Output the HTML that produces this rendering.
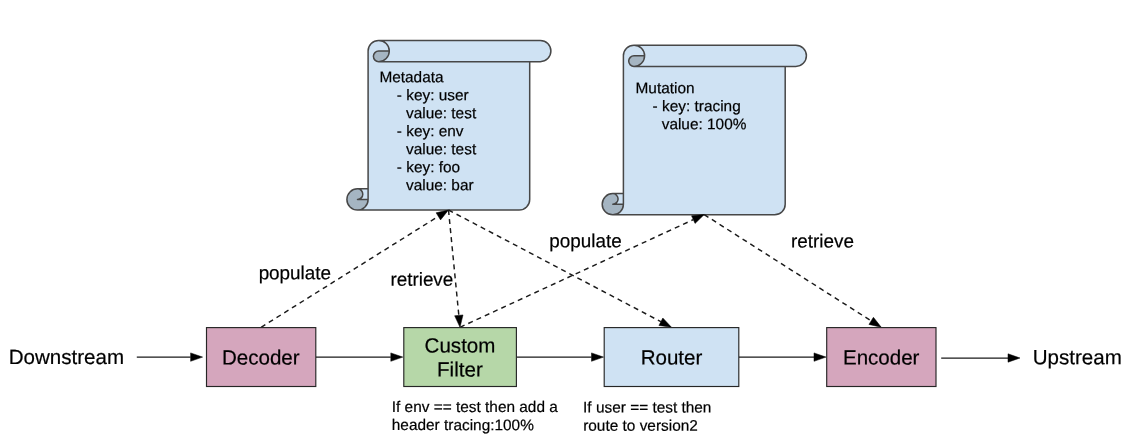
<!DOCTYPE html>
<html><head><meta charset="utf-8"><title>Filter chain metadata diagram</title>
<style>
html,body{margin:0;padding:0;background:#fff;}
body{width:1143px;height:446px;overflow:hidden;}
svg{display:block;will-change:transform;}
text{font-family:"Liberation Sans",Arial,Helvetica,sans-serif;fill:#000;stroke:#000;stroke-width:0.2px;text-rendering:geometricPrecision;}
</style></head><body>
<svg width="1143" height="446" viewBox="0 0 1143 446">
<path d="M368.1 188.85 L368.1 51.05 A10.60 10.60 0 0 1 378.7 40.45 L540.3 40.45 A10.60 10.60 0 0 1 540.3 61.65 L529.7 61.65 L529.7 199.45 A10.60 10.60 0 0 1 519.1 210.05 L357.5 210.05 A10.60 10.60 0 0 1 346.9 199.45 A10.60 10.60 0 0 1 357.5 188.85 Z" fill="#cfe2f3"/>
<path d="M389.3 51.05 A10.60 10.60 0 0 1 378.7 61.65 A5.30 5.30 0 0 1 378.7 51.05 Z M368.1 199.45 A10.60 10.60 0 0 1 357.5 210.05 A10.60 10.60 0 0 1 346.9 199.45 A10.60 10.60 0 0 1 357.5 188.85 A5.30 5.30 0 0 1 357.5 199.45 Z" fill="#a5b5c2"/>
<path d="M368.1 188.85 L368.1 51.05 A10.60 10.60 0 0 1 378.7 40.45 L540.3 40.45 A10.60 10.60 0 0 1 540.3 61.65 L529.7 61.65 L529.7 199.45 A10.60 10.60 0 0 1 519.1 210.05 L357.5 210.05 A10.60 10.60 0 0 1 346.9 199.45 A10.60 10.60 0 0 1 357.5 188.85 Z M378.7 40.45 A10.60 10.60 0 0 1 378.7 61.65 A5.30 5.30 0 0 1 378.7 51.05 L389.3 51.05 M529.7 61.65 L378.7 61.65 M357.5 188.85 A5.30 5.30 0 0 1 357.5 199.45 L368.1 199.45 M357.5 210.05 A10.60 10.60 0 0 0 368.1 199.45 L368.1 188.85" fill="none" stroke="#474747" stroke-width="1.5" stroke-linejoin="round" stroke-linecap="butt"/>
<path d="M623.4 193.6 L623.4 55.8 A10.60 10.60 0 0 1 634.0 45.2 L795.8 45.2 A10.60 10.60 0 0 1 795.8 66.4 L785.2 66.4 L785.2 204.2 A10.60 10.60 0 0 1 774.6 214.8 L612.8 214.8 A10.60 10.60 0 0 1 602.2 204.2 A10.60 10.60 0 0 1 612.8 193.6 Z" fill="#cfe2f3"/>
<path d="M644.6 55.8 A10.60 10.60 0 0 1 634.0 66.4 A5.30 5.30 0 0 1 634.0 55.8 Z M623.4 204.2 A10.60 10.60 0 0 1 612.8 214.8 A10.60 10.60 0 0 1 602.2 204.2 A10.60 10.60 0 0 1 612.8 193.6 A5.30 5.30 0 0 1 612.8 204.2 Z" fill="#a5b5c2"/>
<path d="M623.4 193.6 L623.4 55.8 A10.60 10.60 0 0 1 634.0 45.2 L795.8 45.2 A10.60 10.60 0 0 1 795.8 66.4 L785.2 66.4 L785.2 204.2 A10.60 10.60 0 0 1 774.6 214.8 L612.8 214.8 A10.60 10.60 0 0 1 602.2 204.2 A10.60 10.60 0 0 1 612.8 193.6 Z M634.0 45.2 A10.60 10.60 0 0 1 634.0 66.4 A5.30 5.30 0 0 1 634.0 55.8 L644.6 55.8 M785.2 66.4 L634.0 66.4 M612.8 193.6 A5.30 5.30 0 0 1 612.8 204.2 L623.4 204.2 M612.8 214.8 A10.60 10.60 0 0 0 623.4 204.2 L623.4 193.6" fill="none" stroke="#474747" stroke-width="1.5" stroke-linejoin="round" stroke-linecap="butt"/>
<line x1="261.10" y1="327.30" x2="438.33" y2="216.37" stroke="#1a1a1a" stroke-width="1.45" stroke-dasharray="5 4.1"/>
<polygon points="448.50,210.00 440.56,219.93 436.10,212.81" fill="#000" stroke="#000" stroke-width="0.5" stroke-linejoin="miter"/>
<line x1="448.50" y1="210.00" x2="458.83" y2="315.36" stroke="#1a1a1a" stroke-width="1.45" stroke-dasharray="5 4.1"/>
<polygon points="460.00,327.30 454.65,315.77 463.01,314.95" fill="#000" stroke="#000" stroke-width="0.5" stroke-linejoin="miter"/>
<line x1="460.00" y1="327.30" x2="693.30" y2="219.63" stroke="#1a1a1a" stroke-width="1.45" stroke-dasharray="5 4.1"/>
<polygon points="704.20,214.60 695.06,223.44 691.54,215.81" fill="#000" stroke="#000" stroke-width="0.5" stroke-linejoin="miter"/>
<line x1="448.50" y1="210.00" x2="660.88" y2="321.71" stroke="#1a1a1a" stroke-width="1.45" stroke-dasharray="5 4.1"/>
<polygon points="671.50,327.30 658.92,325.43 662.83,318.00" fill="#000" stroke="#000" stroke-width="0.5" stroke-linejoin="miter"/>
<line x1="704.20" y1="214.60" x2="871.18" y2="320.86" stroke="#1a1a1a" stroke-width="1.45" stroke-dasharray="5 4.1"/>
<polygon points="881.30,327.30 868.92,324.40 873.43,317.31" fill="#000" stroke="#000" stroke-width="0.5" stroke-linejoin="miter"/>
<rect x="206.5" y="327.6" width="109.30" height="58.90" fill="#d5a6bd" stroke="#262626" stroke-width="1.15"/>
<rect x="403.8" y="327.6" width="112.60" height="58.90" fill="#b6d7a8" stroke="#262626" stroke-width="1.15"/>
<rect x="604.2" y="327.6" width="134.60" height="58.90" fill="#cfe2f3" stroke="#262626" stroke-width="1.15"/>
<rect x="826.7" y="327.6" width="109.30" height="58.90" fill="#d5a6bd" stroke="#262626" stroke-width="1.15"/>
<line x1="136.80" y1="357.10" x2="190.60" y2="357.10" stroke="#1a1a1a" stroke-width="1.25"/>
<polygon points="202.60,357.10 190.60,361.30 190.60,352.90" fill="#000" stroke="#000" stroke-width="0.5" stroke-linejoin="miter"/>
<line x1="316.00" y1="357.10" x2="390.80" y2="357.10" stroke="#1a1a1a" stroke-width="1.25"/>
<polygon points="402.80,357.10 390.80,361.30 390.80,352.90" fill="#000" stroke="#000" stroke-width="0.5" stroke-linejoin="miter"/>
<line x1="517.00" y1="357.10" x2="591.50" y2="357.10" stroke="#1a1a1a" stroke-width="1.25"/>
<polygon points="603.50,357.10 591.50,361.30 591.50,352.90" fill="#000" stroke="#000" stroke-width="0.5" stroke-linejoin="miter"/>
<line x1="739.00" y1="357.10" x2="814.00" y2="357.10" stroke="#1a1a1a" stroke-width="1.25"/>
<polygon points="826.00,357.10 814.00,361.30 814.00,352.90" fill="#000" stroke="#000" stroke-width="0.5" stroke-linejoin="miter"/>
<line x1="941.20" y1="358.00" x2="1008.00" y2="358.00" stroke="#1a1a1a" stroke-width="1.25"/>
<polygon points="1020.00,358.00 1008.00,362.20 1008.00,353.80" fill="#000" stroke="#000" stroke-width="0.5" stroke-linejoin="miter"/>
<text x="8.73" y="364.0" font-size="20.55" transform="rotate(0.03 8.73 364.0)">Downstream</text>
<text x="1032.76" y="364.2" font-size="20.55" transform="rotate(0.03 1032.76 364.2)">Upstream</text>
<text x="221.96" y="364.4" font-size="20.55" transform="rotate(0.03 221.96 364.4)">Decoder</text>
<text x="424.6" y="352.4" font-size="20.55" transform="rotate(0.03 424.6 352.4)">Custom</text>
<text x="437.07" y="376.5" font-size="20.55" transform="rotate(0.03 437.07 376.5)">Filter</text>
<text x="640.66" y="364.4" font-size="20.55" transform="rotate(0.03 640.66 364.4)">Router</text>
<text x="842.93" y="364.4" font-size="20.55" transform="rotate(0.03 842.93 364.4)">Encoder</text>
<text x="258.63" y="279.2" font-size="18.88" transform="rotate(0.03 258.63 279.2)">populate</text>
<text x="390.42" y="285.8" font-size="18.88" transform="rotate(0.03 390.42 285.8)">retrieve</text>
<text x="549.33" y="247.3" font-size="18.88" transform="rotate(0.03 549.33 247.3)">populate</text>
<text x="791.07" y="247.4" font-size="18.88" transform="rotate(0.03 791.07 247.4)">retrieve</text>
<text x="379.4" y="82.25" font-size="15.4" transform="rotate(0.03 379.4 82.25)">Metadata</text>
<text x="396.8" y="100.25" font-size="15.4" transform="rotate(0.03 396.8 100.25)">- key: user</text>
<text x="406.0" y="118.25" font-size="15.4" transform="rotate(0.03 406.0 118.25)">value: test</text>
<text x="396.8" y="136.25" font-size="15.4" transform="rotate(0.03 396.8 136.25)">- key: env</text>
<text x="406.0" y="154.25" font-size="15.4" transform="rotate(0.03 406.0 154.25)">value: test</text>
<text x="396.8" y="172.25" font-size="15.4" transform="rotate(0.03 396.8 172.25)">- key: foo</text>
<text x="406.0" y="190.25" font-size="15.4" transform="rotate(0.03 406.0 190.25)">value: bar</text>
<text x="635.5" y="93.15" font-size="15.4" transform="rotate(0.03 635.5 93.15)">Mutation</text>
<text x="652.6" y="111.15" font-size="15.4" transform="rotate(0.03 652.6 111.15)">- key: tracing</text>
<text x="661.7" y="129.15" font-size="15.4" transform="rotate(0.03 661.7 129.15)">value: 100%</text>
<text x="391.8" y="412.0" font-size="15.4" transform="rotate(0.03 391.8 412.0)">If env == test then add a</text>
<text x="391.8" y="430.1" font-size="15.4" transform="rotate(0.03 391.8 430.1)">header tracing:100%</text>
<text x="583.1" y="412.5" font-size="15.4" transform="rotate(0.03 583.1 412.5)">If user == test then</text>
<text x="583.2" y="430.7" font-size="15.4" transform="rotate(0.03 583.2 430.7)">route to version2</text>
</svg>
</body></html>
